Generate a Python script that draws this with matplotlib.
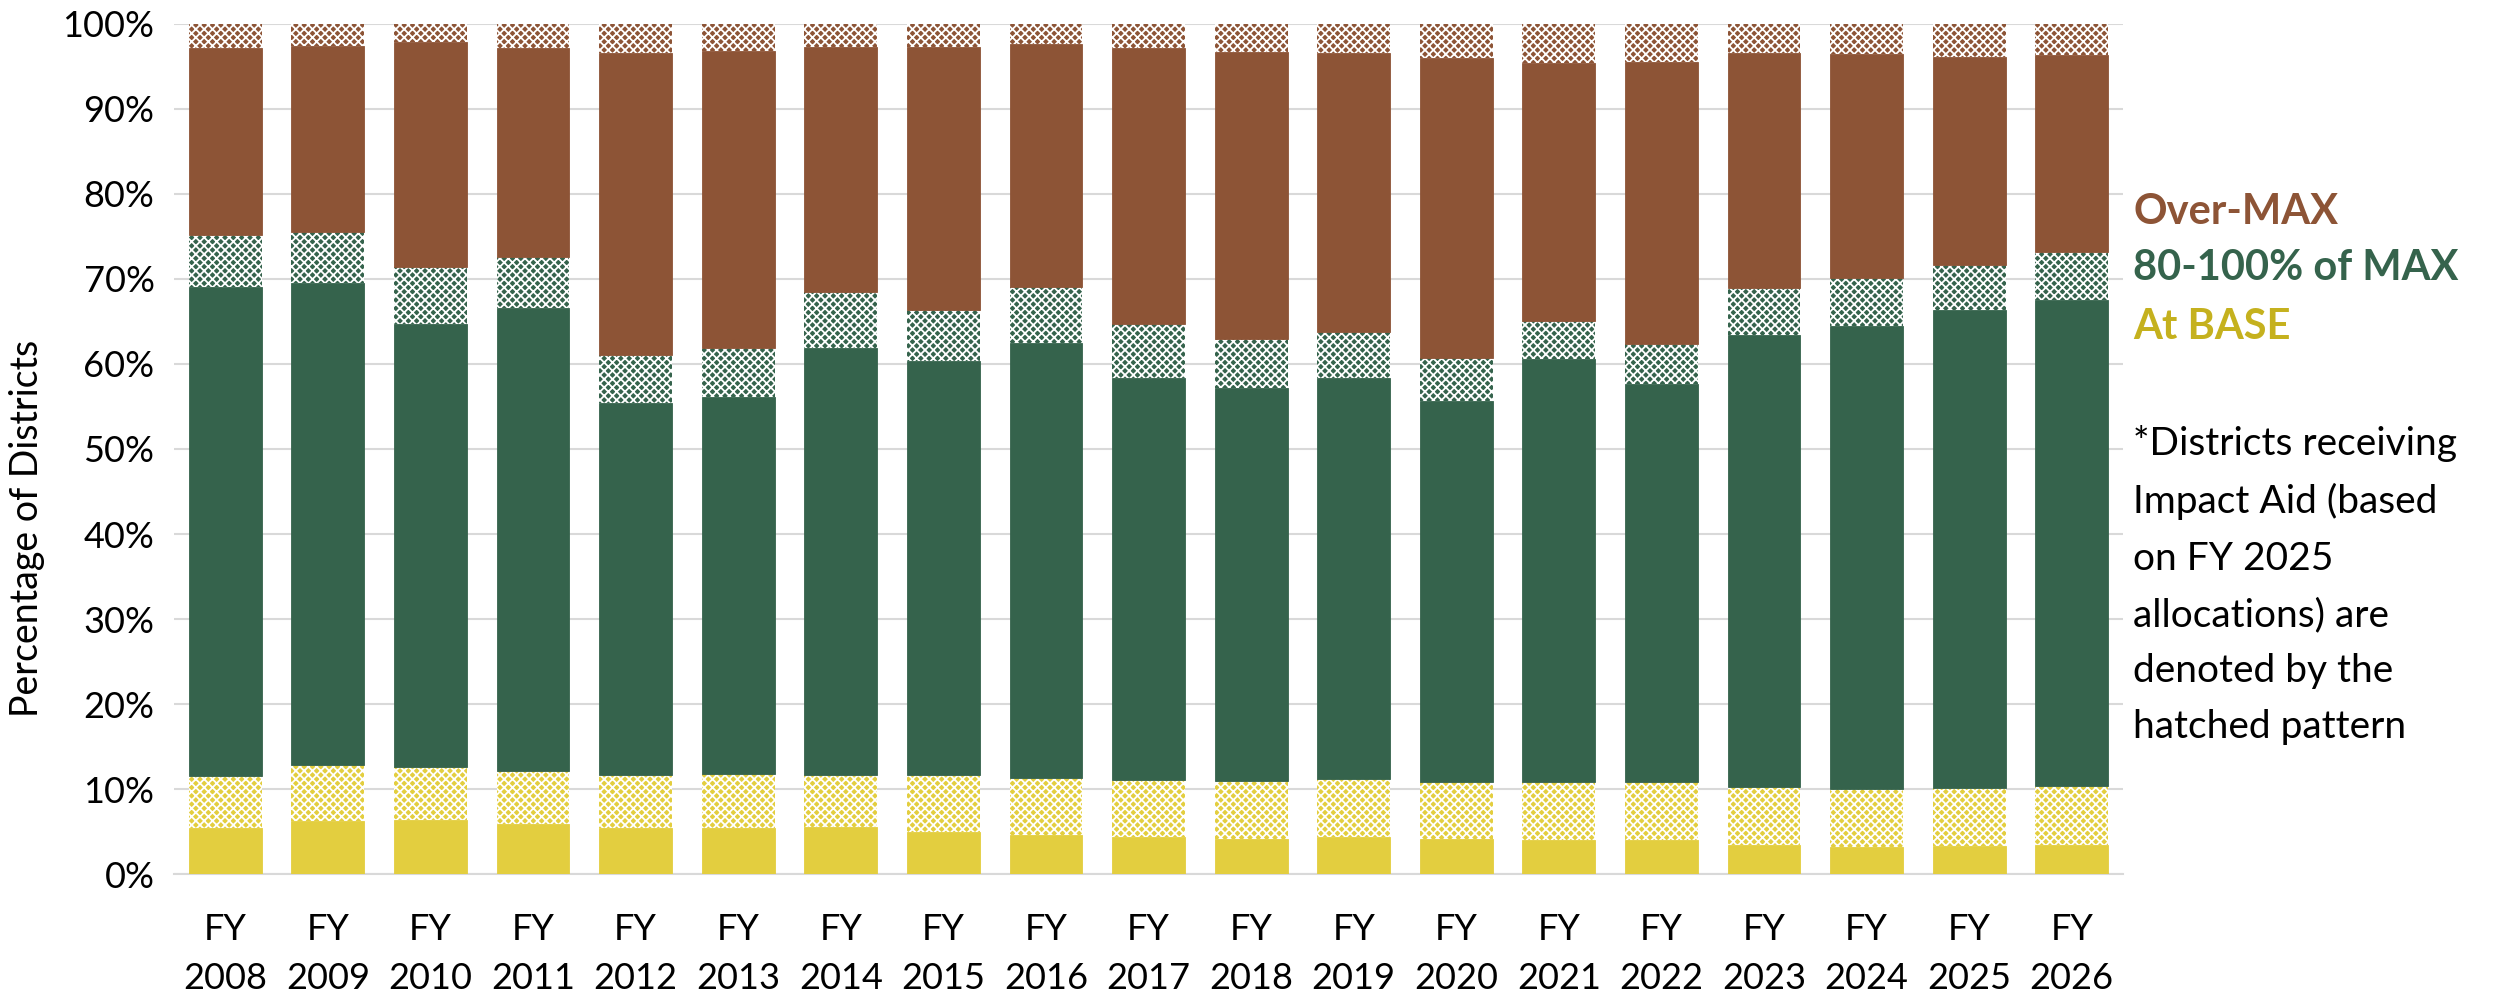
import numpy as np
import matplotlib
matplotlib.use('Agg')
import matplotlib.pyplot as plt
from matplotlib.ticker import PercentFormatter

plt.rcParams['font.family'] = ['Lato', 'DejaVu Sans']
plt.rcParams['hatch.linewidth'] = 1.3

# share of districts (%) in each funding group, per fiscal year
years = ['FY\n2008', 'FY\n2009', 'FY\n2010', 'FY\n2011', 'FY\n2012', 'FY\n2013', 'FY\n2014',
         'FY\n2015', 'FY\n2016', 'FY\n2017', 'FY\n2018', 'FY\n2019', 'FY\n2020', 'FY\n2021',
         'FY\n2022', 'FY\n2023', 'FY\n2024', 'FY\n2025', 'FY\n2026']

base = [5.4, 6.3, 6.4, 5.9, 5.4, 5.4, 5.6, 5.0, 4.6, 4.4, 4.2, 4.4, 4.1, 4.0, 4.0, 3.4, 3.2, 3.3, 3.5]
base_ia = [6.2, 6.5, 6.2, 6.2, 6.3, 6.4, 6.1, 6.7, 6.7, 6.7, 6.8, 6.8, 6.8, 6.8, 6.8, 6.9, 6.8, 6.8, 6.9]
mid = [57.5, 56.7, 52.1, 54.5, 43.7, 44.3, 50.2, 48.6, 51.2, 47.3, 46.2, 47.1, 44.8, 49.8, 46.9,
       53.1, 54.5, 56.2, 57.1]
mid_ia = [6.0, 6.0, 6.7, 6.0, 5.6, 5.8, 6.6, 6.1, 6.5, 6.3, 5.7, 5.5, 5.0, 4.5, 4.6, 5.5, 5.6, 5.3, 5.7]
over = [22.0, 21.9, 26.4, 24.5, 35.6, 34.9, 28.8, 30.9, 28.6, 32.5, 33.8, 32.7, 35.3, 30.3, 33.2,
        27.7, 26.3, 24.5, 23.1]
over_ia = [2.9, 2.6, 2.2, 2.9, 3.6, 3.2, 2.7, 2.7, 2.4, 2.8, 3.3, 3.5, 4.0, 4.6, 4.5, 3.4, 3.6, 3.9, 3.7]

yellow = '#E3CE3F'
green = '#35634C'
brown = '#8D5436'

segments = [
    (base, yellow, False),
    (base_ia, yellow, True),
    (mid, green, False),
    (mid_ia, green, True),
    (over, brown, False),
    (over_ia, brown, True),
]

fig = plt.figure(figsize=(25.14, 10), dpi=100)
ax = fig.add_axes([0.0692, 0.1257, 0.7753, 0.8506])

x = np.arange(len(years))
bottom = np.zeros(len(years))
for vals, color, hatched in segments:
    vals = np.array(vals)
    if hatched:
        ax.bar(x, vals, 0.71, bottom=bottom, color=color, edgecolor='white',
               hatch='xxxx', linewidth=0, zorder=3)
    else:
        ax.bar(x, vals, 0.71, bottom=bottom, color=color, edgecolor=color,
               linewidth=0.6, zorder=3)
    bottom += vals

ax.set_xlim(-0.5, len(years) - 0.5)
ax.set_ylim(0, 100)
ax.set_yticks(np.arange(0, 101, 10))
ax.yaxis.set_major_formatter(PercentFormatter(decimals=0))
ax.set_xticks(x)
ax.set_xticklabels(years, linespacing=1.6)

ax.grid(axis='y', color='#D9D9D9', linewidth=1.5, zorder=0)
for side in ['top', 'right', 'left']:
    ax.spines[side].set_visible(False)
ax.spines['bottom'].set_color('#D9D9D9')
ax.spines['bottom'].set_linewidth(1.5)
ax.tick_params(axis='both', length=0, labelsize=26)
ax.tick_params(axis='x', pad=28)
ax.tick_params(axis='y', pad=14)

fig.text(0.0108, 0.472, 'Percentage of Districts', fontsize=27, rotation=90,
         ha='center', va='center')

# category labels and note, to the right of the bars
fig.text(0.8485, 0.788, 'Over-MAX', color=brown, fontsize=30, fontweight='bold', va='center')
fig.text(0.8485, 0.732, '80-100% of MAX', color=green, fontsize=30, fontweight='bold', va='center')
fig.text(0.8485, 0.673, 'At BASE', color='#C5B11E', fontsize=30, fontweight='bold', va='center')
fig.text(0.8485, 0.575, '*Districts receiving\nImpact Aid (based\non FY 2025\nallocations) are\ndenoted by the\nhatched pattern',
         color='black', fontsize=28, va='top', linespacing=1.7)

fig.savefig('out.png', dpi=100)
